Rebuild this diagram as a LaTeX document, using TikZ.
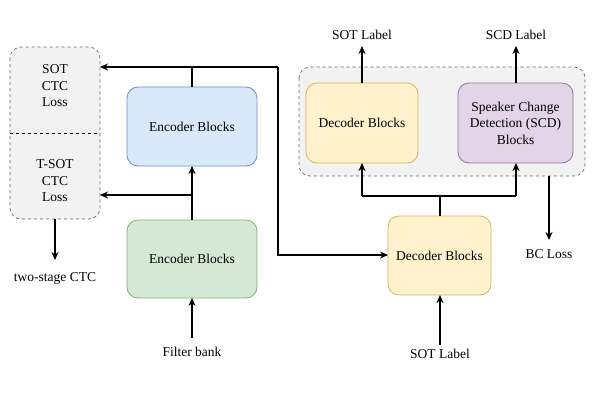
\documentclass[tikz,border=0pt]{standalone}
\usepackage{fontspec}
\setmainfont{Liberation Serif}
\usetikzlibrary{arrows.meta}
\definecolor{bluef}{HTML}{DAE8FC}\definecolor{blued}{HTML}{6C8EBF}
\definecolor{greenf}{HTML}{D5E8D4}\definecolor{greend}{HTML}{82B366}
\definecolor{yelf}{HTML}{FFF2CC}\definecolor{yeld}{HTML}{D6B656}
\definecolor{purf}{HTML}{E1D5E7}\definecolor{purd}{HTML}{9673A6}
\definecolor{grayf}{HTML}{F2F2F2}\definecolor{grayd}{HTML}{666666}
\begin{document}
\begin{tikzpicture}[x=1pt,y=-1pt,
  every node/.style={font=\fontsize{13.5}{16.5}\selectfont, align=center},
  blk/.style={rounded corners=11pt, line width=0.8pt, inner sep=0pt},
  grp/.style={rounded corners=11pt, dashed, draw=grayd, fill=grayf, line width=0.7pt},
  arr/.style={line width=1.1pt, -{Stealth[length=8pt,width=7pt]}},
  ln/.style={line width=1.1pt}]
\useasboundingbox (0,0) rectangle (597,400);
% groups
\draw[grp] (10,47) rectangle (100,219);
\draw[dashed, line width=0.7pt] (10,133) -- (100,133);
\draw[grp] (299,67) rectangle (585,176);
\node (sotctc) at (55,86) {SOT\\CTC\\Loss};
\node (tsotctc) at (55,181) {T-SOT\\CTC\\Loss};
\coordinate (lossR1) at (100,67);
\coordinate (lossR2) at (100,195);
\coordinate (lossB) at (55,219);
\coordinate (grpB) at (549,176);
% blocks
\draw[blk, fill=bluef, draw=blued] (127,87) rectangle (257,166);
\node (enc2) at (192,126.5) {Encoder Blocks};
\draw[blk, fill=greenf, draw=greend] (127,220) rectangle (257,298);
\node (enc1) at (192,259) {Encoder Blocks};
\draw[blk, fill=yelf, draw=yeld] (388,216) rectangle (491,295);
\node (dec1) at (439.5,255.5) {Decoder Blocks};
\draw[blk, fill=yelf, draw=yeld] (306,83) rectangle (418,163);
\node (dec2) at (362,123) {Decoder Blocks};
\draw[blk, fill=purf, draw=purd] (458,83) rectangle (573,163);
\node (scd) at (515.5,123) {Speaker Change\\Detection (SCD)\\Blocks};
% texts
\node (fb) at (192,352) {Filter bank};
\node (sotin) at (440,354) {SOT Label};
\node (tsc) at (55,278) {two-stage CTC};
\node (bc) at (549,254) {BC Loss};
\node (sotout) at (362,35) {SOT Label};
\node (scdout) at (516,35) {SCD Label};
% connectors
\draw[arr] (192,338) -- (192,298);
\draw[arr] (192,220) -- (192,166);
\draw[arr] (192,195) -- (lossR2);
\draw[ln] (192,87) -- (192,67);
\draw[arr] (278,67) -- (lossR1);
\draw[arr] (278,67) -- (278,255) -- (388,255);
\draw[arr] (440,345) -- (440,295);
\draw[arr] (lossB) -- (55,260);
\draw[ln] (440,216) -- (440,196);
\draw[arr] (362,196) -- (362,163);
\draw[arr] (516,196) -- (516,163);
\draw[ln] (362,196) -- (516,196);
\draw[arr] (362,83) -- (362,46);
\draw[arr] (516,83) -- (516,46);
\draw[arr] (grpB) -- (549,240);
\end{tikzpicture}
\end{document}
